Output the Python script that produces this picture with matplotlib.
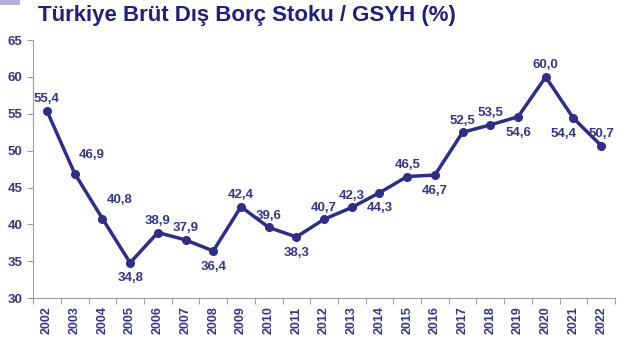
import matplotlib.pyplot as plt
from matplotlib.patches import Rectangle

years = [str(y) for y in range(2002, 2023)]
values = [55.4, 46.9, 40.8, 34.8, 38.9, 37.9, 36.4, 42.4, 39.6, 38.3, 40.7,
          42.3, 44.3, 46.5, 46.7, 52.5, 53.5, 54.6, 60.0, 54.4, 50.7]
# label placement: a = above, b = below, r = above right, l = below left
places = ["a", "r", "r", "b", "a", "a", "b", "a", "a", "b", "a",
          "a", "b", "a", "b", "a", "a", "b", "a", "l", "a"]

navy = "#2E2E8A"
txt = "#34348F"
plt.rcParams["font.family"] = ["Liberation Sans", "DejaVu Sans"]

fig = plt.figure(figsize=(6.25, 3.52), dpi=100)
ax = fig.add_axes([0.053, 0.153, 0.931, 0.733])

x = list(range(len(years)))
ax.plot(x, values, color=navy, lw=2.5, marker="o", ms=5.5, zorder=3)

for i, v in enumerate(values):
    s = f"{v:.1f}".replace(".", ",")
    p = places[i]
    if p == "a":
        ax.annotate(s, (i, v), xytext=(0, 4), textcoords="offset points",
                    ha="center", va="bottom")
    elif p == "b":
        ax.annotate(s, (i, v), xytext=(0, -7), textcoords="offset points",
                    ha="center", va="top")
    elif p == "r":
        ax.annotate(s, (i, v), xytext=(3, 9), textcoords="offset points",
                    ha="left", va="bottom")
    else:
        ax.annotate(s, (i, v), xytext=(-7, -7), textcoords="offset points",
                    ha="center", va="top")
for t in ax.texts:
    t.set_color(txt)
    t.set_fontsize(9.5)
    t.set_fontweight("bold")

ax.set_xlim(-0.5, len(years) - 0.5)
ax.set_ylim(30, 65)
ax.set_yticks(range(30, 66, 5))
ax.set_xticks([i - 0.5 for i in range(len(years) + 1)], minor=False)
ax.set_xticklabels([])
ax.set_xticks(x, minor=True)
ax.set_xticklabels(years, minor=True, rotation=90)
ax.tick_params(axis="x", which="minor", length=0, pad=6, labelsize=9, labelcolor=txt)
ax.tick_params(axis="x", which="major", length=4, color="#A0A0A0")
ax.tick_params(axis="y", length=4, color="#A0A0A0", labelsize=9.5, labelcolor=txt)
for lab in ax.get_xticklabels(minor=True) + ax.get_yticklabels():
    lab.set_fontweight("bold")

for sp in ["top", "right"]:
    ax.spines[sp].set_visible(False)
for sp in ["left", "bottom"]:
    ax.spines[sp].set_color("#A0A0A0")

fig.text(0.061, 0.955, "Türkiye Brüt Dış Borç Stoku / GSYH (%)", fontsize=16,
         fontweight="bold", color="#1F1F7C", va="center", ha="left")
fig.patches.append(Rectangle((0, 0.985), 0.032, 0.015, transform=fig.transFigure,
                             color="#B8B0DA", lw=0))

fig.savefig("out.png", dpi=100)
